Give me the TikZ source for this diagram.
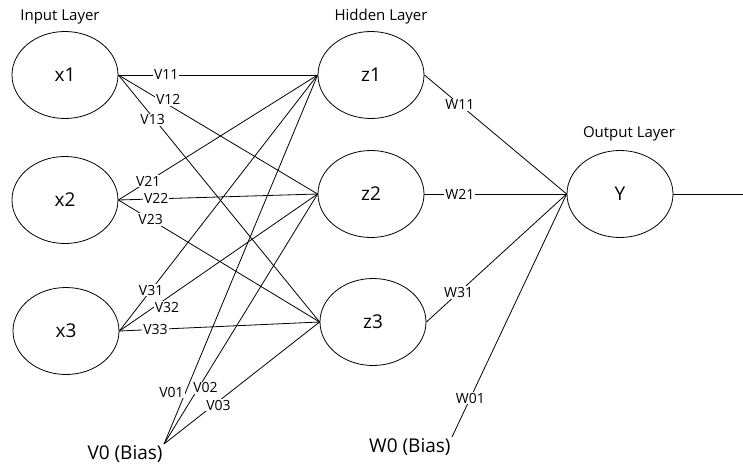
\documentclass[tikz,border=0pt]{standalone}
\usepackage{fontspec}
\setmainfont{Open Sans}
\usetikzlibrary{shapes.geometric}

\begin{document}
\begin{tikzpicture}[x=1pt, y=-1pt, line width=0.8pt,
    neuron/.style={draw, ellipse, minimum width=106pt, minimum height=87pt, inner sep=0pt, font=\fontsize{19}{19}\selectfont},
    layer/.style={font=\fontsize{15}{15}\selectfont},
    bias/.style={inner sep=1pt, font=\fontsize{19}{19}\selectfont},
    weight/.style={fill=white, inner sep=1pt, font=\fontsize{14}{14}\selectfont}]

    \useasboundingbox (0,0) rectangle (743,466);

    % Layer titles
    \node [layer] (in_title) at (60,17) {Input Layer};
    \node [layer] (hid_title) at (381,17) {Hidden Layer};
    \node [layer] (out_title) at (629,134) {Output Layer};

    % Nodes
    \node [neuron] (x1) at (65,75) {x1};
    \node [neuron] (x2) at (65,200) {x2};
    \node [neuron] (x3) at (66,331) {x3};
    \node [neuron] (z1) at (371,75) {z1};
    \node [neuron] (z2) at (371,194) {z2};
    \node [neuron] (z3) at (373,322) {z3};
    \node [neuron] (y) at (620,194) {Y};
    \node [bias, anchor=north east] (v0) at (164,444) {V0 (Bias)};
    \node [bias, anchor=north east] (w0) at (452,437) {W0 (Bias)};
    \coordinate (out) at (743,194);

    % Input -> hidden
    \draw (x1.east) -- node[weight, pos=0.24] {V11} (z1.west);
    \draw (x1.east) -- node[weight, pos=0.25, yshift=5pt] {V12} (z2.west);
    \draw (x1.east) -- node[weight, pos=0.17, yshift=-3pt] {V13} (z3.west);
    \draw (x2.east) -- node[weight, pos=0.15] {V21} (z1.west);
    \draw (x2.east) -- node[weight, pos=0.19] {V22} (z2.west);
    \draw (x2.east) -- node[weight, pos=0.16] {V23} (z3.west);
    \draw (x3.east) -- node[weight, pos=0.16] {V31} (z1.west);
    \draw (x3.east) -- node[weight, pos=0.24, yshift=-9pt] {V32} (z2.west);
    \draw (x3.east) -- node[weight, pos=0.18] {V33} (z3.west);

    % Hidden bias
    \draw (v0.north east) -- node[weight, pos=0.14, xshift=-14pt] {V01} (z1.west);
    \draw (v0.north east) -- node[weight, pos=0.225, xshift=7pt] {V02} (z2.west);
    \draw (v0.north east) -- node[weight, pos=0.35, yshift=-4pt] {V03} (z3.west);

    % Hidden -> output
    \draw (z1.east) -- node[weight, pos=0.25] {W11} (y.west);
    \draw (z2.east) -- node[weight, pos=0.25] {W21} (y.west);
    \draw (z3.east) -- node[weight, pos=0.23] {W31} (y.west);
    \draw (w0.north east) -- node[weight, pos=0.16] {W01} (y.west);

    \draw (y) -- (out);

\end{tikzpicture}
\end{document}
